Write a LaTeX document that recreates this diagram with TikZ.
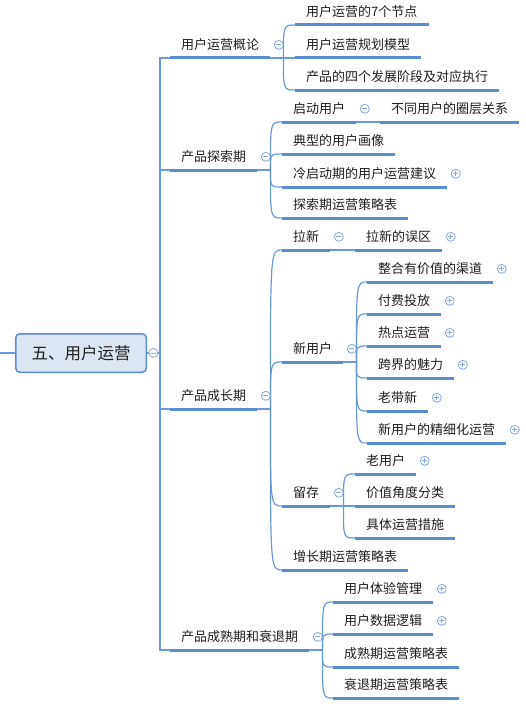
\documentclass[tikz,border=0pt]{standalone}
\usepackage{fontspec}
\newfontfamily\cjk{Noto Sans CJK SC}
\usepackage{tikz}
\usetikzlibrary{positioning}
\usepackage{xcolor}
\definecolor{branch}{HTML}{5A8CD4}
\definecolor{twigline}{HTML}{6A98DA}
\definecolor{rootfill}{HTML}{DCE6F2}
\definecolor{foldc}{HTML}{86A9DE}
\definecolor{ink}{HTML}{1E1E1E}

\tikzset{
  topic/.style={font=\cjk\fontsize{13}{15}\selectfont,text=ink,anchor=south west,
        inner xsep=11pt,inner ysep=6.5pt,text height=11.5pt,text depth=1.5pt},
  uline/.style={branch,line width=3pt},
  link/.style={twigline,line width=1.2pt},
  twig/.style={to path={.. controls (\tikztostart |- \tikztotarget) .. (\tikztotarget)}},
  fold/.style={circle,draw=foldc,fill=white,line width=0.8pt,minimum size=9pt,inner sep=0pt},
  foldminus/.style={fold,path picture={
        \draw[foldc,line width=0.8pt] ([xshift=-2.6pt]path picture bounding box.center)
          -- ([xshift=2.6pt]path picture bounding box.center);}},
  foldplus/.style={fold,path picture={
        \draw[foldc,line width=0.8pt] ([xshift=-2.6pt]path picture bounding box.center)
          -- ([xshift=2.6pt]path picture bounding box.center)
          ([yshift=-2.6pt]path picture bounding box.center)
          -- ([yshift=2.6pt]path picture bounding box.center);}}
}

\begin{document}
\begin{tikzpicture}[x=1pt,y=-1pt]
  \useasboundingbox (0,0) rectangle (525,709);

  % root
  \node[draw=branch,line width=1.5pt,fill=rootfill,rounded corners=4pt,
        minimum width=130.5pt,minimum height=38.5pt,inner sep=0pt,
        font=\cjk\fontsize{16.5}{18}\selectfont,text=ink] (root) at (81,353) {五、用户运营};
  \coordinate (stub) at (0,353);
  \coordinate (hub) at (160,353);

  % first level
  \node[topic] (concept) at (170,58)  {用户运营概论};
  \node[topic] (explore) at (170,170) {产品探索期};
  \node[topic] (growth)  at (170,409) {产品成长期};
  \node[topic] (mature)  at (170,650) {产品成熟期和衰退期};

  % concept
  \node[topic] (sevennodes) at (295,25) {用户运营的7个节点};
  \node[topic] (planmodel)  at (295,58) {用户运营规划模型};
  \node[topic] (fourstages) at (295,90) {产品的四个发展阶段及对应执行};

  % explore
  \node[topic] (launch)       at (282,122) {启动用户};
  \node[topic] (circles)      at (380,122) {不同用户的圈层关系};
  \node[topic] (persona)      at (282,154) {典型的用户画像};
  \node[topic] (coldstart)    at (282,187) {冷启动期的用户运营建议};
  \node[topic] (exploretable) at (282,218) {探索期运营策略表};

  % growth
  \node[topic] (acquire)     at (282,250) {拉新};
  \node[topic] (pitfalls)    at (355,250) {拉新的误区};
  \node[topic] (newusers)    at (282,362) {新用户};
  \node[topic] (channels)    at (367,282) {整合有价值的渠道};
  \node[topic] (paidads)     at (367,314) {付费投放};
  \node[topic] (hotspot)     at (367,346) {热点运营};
  \node[topic] (crossover)   at (367,378) {跨界的魅力};
  \node[topic] (referral)    at (367,411) {老带新};
  \node[topic] (refine)      at (367,443) {新用户的精细化运营};
  \node[topic] (retain)      at (282,506) {留存};
  \node[topic] (oldusers)    at (355,474) {老用户};
  \node[topic] (valuegroups) at (355,506) {价值角度分类};
  \node[topic] (measures)    at (355,538) {具体运营措施};
  \node[topic] (growthtable) at (282,570) {增长期运营策略表};

  % mature
  \node[topic] (experience)   at (333,602) {用户体验管理};
  \node[topic] (datalogic)    at (333,634) {用户数据逻辑};
  \node[topic] (maturetable)  at (333,667) {成熟期运营策略表};
  \node[topic] (declinetable) at (333,698) {衰退期运营策略表};

  % connectors
  \draw[link] (stub) -- (root.west);
  \draw[link] (root.east) -- (hub);
  \foreach \n in {concept,explore,growth,mature}
    \draw[link] (hub) |- (\n.south west);

  \draw[link] (concept.south east) -- ++(13,0) coordinate (conceptfork);
  \foreach \n in {sevennodes,planmodel,fourstages}
    \draw[link] (conceptfork) to[twig] (\n.south west);

  \draw[link] (explore.south east) -- ++(13,0) coordinate (explorefork);
  \foreach \n in {launch,persona,coldstart,exploretable}
    \draw[link] (explorefork) to[twig] (\n.south west);
  \draw[link] (launch.south east) -- (circles.south west);

  \draw[link] (growth.south east) -- ++(13,0) coordinate (growthfork);
  \foreach \n in {acquire,newusers,retain,growthtable}
    \draw[link] (growthfork) to[twig] (\n.south west);
  \draw[link] (acquire.south east) -- (pitfalls.south west);

  \draw[link] (newusers.south east) -- ++(13,0) coordinate (newusersfork);
  \foreach \n in {channels,paidads,hotspot,crossover,referral,refine}
    \draw[link] (newusersfork) to[twig] (\n.south west);

  \draw[link] (retain.south east) -- ++(13,0) coordinate (retainfork);
  \foreach \n in {oldusers,valuegroups,measures}
    \draw[link] (retainfork) to[twig] (\n.south west);

  \draw[link] (mature.south east) -- ++(13,0) coordinate (maturefork);
  \foreach \n in {experience,datalogic,maturetable,declinetable}
    \draw[link] (maturefork) to[twig] (\n.south west);

  % underlines
  \foreach \n in {concept,explore,growth,mature,sevennodes,planmodel,fourstages,
                  launch,circles,persona,coldstart,exploretable,acquire,pitfalls,
                  newusers,channels,paidads,hotspot,crossover,referral,refine,
                  retain,oldusers,valuegroups,measures,growthtable,
                  experience,datalogic,maturetable,declinetable}
    \draw[uline] (\n.south west) -- (\n.south east);

  % fold markers
  \node[foldminus,right=1.5pt of root] (rootfold) {};
  \foreach \n in {concept,explore,launch,growth,acquire,newusers,retain,mature}
    \node[foldminus,right=3.5pt of \n] (\n-fold) {};
  \foreach \n in {coldstart,pitfalls,channels,paidads,hotspot,crossover,referral,
                  refine,oldusers,experience,datalogic}
    \node[foldplus,right=3.5pt of \n] (\n-fold) {};
\end{tikzpicture}
\end{document}
